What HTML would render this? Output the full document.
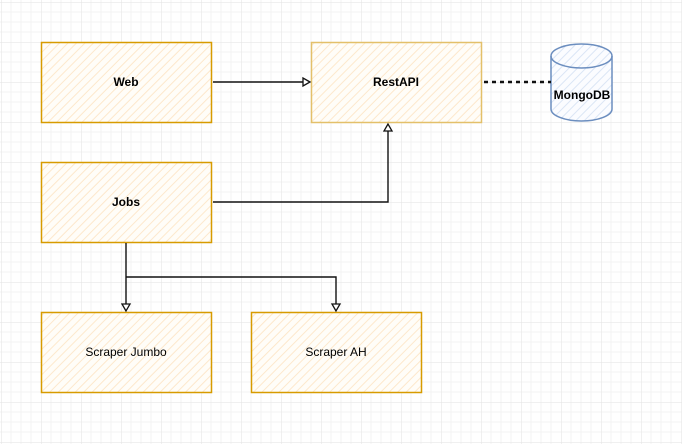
<!DOCTYPE html>
<html><head><style>
html,body{margin:0;padding:0;background:#fff}
svg{display:block}
text{font-family:"Liberation Sans",sans-serif;font-size:12px;text-anchor:middle;dominant-baseline:middle}
</style></head><body>
<svg width="682" height="444" xmlns="http://www.w3.org/2000/svg">
<defs>
<pattern id="g" width="40" height="40" patternUnits="userSpaceOnUse" x="1" y="2">
<path d="M10 0V40M20 0V40M30 0V40M0 10H40M0 20H40M0 30H40" stroke="#f3f3f3" stroke-width="1"/>
<path d="M0 0V40M0 0H40" stroke="#e2e2e2" stroke-width="1"/>
</pattern>
<pattern id="h" width="6" height="6" patternUnits="userSpaceOnUse" patternTransform="rotate(45)">
<rect width="6" height="6" fill="#fffdf8"/><line x1="0" y1="0" x2="0" y2="6" stroke="#fde8cc" stroke-width="2"/>
</pattern>
<pattern id="hb" width="6" height="6" patternUnits="userSpaceOnUse" patternTransform="rotate(45)">
<rect width="6" height="6" fill="#fbfcff"/><line x1="0" y1="0" x2="0" y2="6" stroke="#dae5f5" stroke-width="2"/>
</pattern>
</defs>
<rect width="682" height="444" fill="url(#g)"/>
<g stroke="#d79b00" stroke-width="1.5" fill="url(#h)">
<rect x="41.5" y="42.5" width="170" height="80"/>
<rect x="41.5" y="162.5" width="170" height="80"/>
<rect x="41.5" y="312.5" width="170" height="80"/>
<rect x="251.5" y="312.5" width="170" height="80"/>
<rect x="311.5" y="42.5" width="170" height="80" stroke="#e3c06a"/>
</g>
<g stroke="#6c8ebf" stroke-width="1.5" fill="url(#hb)">
<path d="M551 56V109A30.5 12 0 0 0 612 109V56A30.5 12 0 0 0 551 56Z"/>
<path d="M551 56A30.5 12 0 0 0 612 56" fill="none"/>
</g>
<g stroke="#111" stroke-width="1.4" fill="none">
<path d="M213 82H306"/>
<path d="M213 202H388V128"/>
<path d="M126 243V306M126 277H336V306"/>
</g>
<path d="M484 82H551" stroke="#111" stroke-width="2.5" stroke-dasharray="4 4"/>
<g fill="#fff" stroke="#111" stroke-width="1.3">
<path d="M310 82L303 78V86Z"/>
<path d="M388 124L384 131H392Z"/>
<path d="M126 311L122 304H130Z"/>
<path d="M336 311L332 304H340Z"/>
</g>
<g font-weight="bold">
<text x="126" y="83">Web</text>
<text x="126" y="203">Jobs</text>
<text x="396" y="83">RestAPI</text>
<text x="582" y="96">MongoDB</text>
</g>
<text x="126" y="353">Scraper Jumbo</text>
<text x="336" y="353">Scraper AH</text>
</svg>
</body></html>
